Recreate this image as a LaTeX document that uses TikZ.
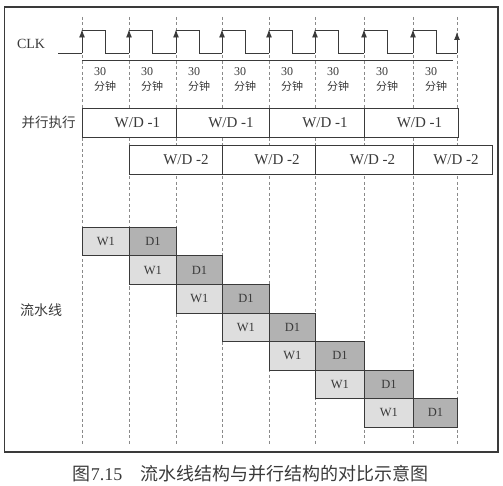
\documentclass[tikz,border=0pt]{standalone}
\usepackage{fontspec}
\setmainfont{Liberation Serif}
\newfontfamily\cjk{Noto Sans CJK SC}
\usetikzlibrary{arrows.meta}
\definecolor{ink}{HTML}{3A3A3A}
\definecolor{wfill}{HTML}{DEDEDE}
\definecolor{dfill}{HTML}{B2B2B2}
\definecolor{gridc}{HTML}{8A8A8A}
\begin{document}
\begin{tikzpicture}[x=1pt,y=-1pt,
  gridline/.style={draw=gridc, dash pattern=on 3pt off 2.5pt, line width=0.6pt},
  wave/.style={draw=ink, line width=0.9pt},
  edgearrow/.style={draw=ink, line width=0.9pt, -{Latex[length=8pt,width=6pt]}},
  wdbox/.style={draw=ink, fill=white, line width=0.9pt, minimum height=29pt, anchor=north west, inner sep=0pt, text=ink, font=\fontsize{15}{15}\selectfont},
  pbox/.style={draw=ink, line width=0.9pt, minimum height=28.5pt, anchor=north west, inner sep=0pt, text=ink, font=\fontsize{12.5}{12.5}\selectfont},
  wbox/.style={pbox, fill=wfill},
  dbox/.style={pbox, fill=dfill},
  lbl/.style={text=ink, inner sep=0pt},
]
\useasboundingbox (0,0) rectangle (503,486);
% frame
\draw[ink, line width=1.4pt] (4.5,7) rectangle (498,452);
% dashed time grid
\foreach \x [count=\k] in {82,129,176,222,269,315,364,413,457}
  \draw[gridline] (\x,17) -- (\x,445);
% CLK label
\node[lbl, font=\fontsize{14}{14}\selectfont] (clk) at (31,44) {CLK};
% clock waveform
\draw[wave] (58,53) -- (82,53);
\foreach \a/\b in {82/129,129/176,176/222,222/269,269/315,315/364,364/413,413/457}{
  \draw[wave] (\a,30) -- (\a+23,30) -- (\a+23,53) -- (\b,53);
  \draw[edgearrow] (\a,53) -- (\a,29.5);
}
\draw[edgearrow] (457,53) -- (457,32);
% time base line
\draw[wave] (82,60) -- (453,60);
% 30 / min labels
\foreach \x [count=\k] in {82,129,176,222,269,315,364,413}{
  \node[lbl, anchor=west, font=\fontsize{12}{12}\selectfont] (t\k) at (\x+12,72) {30};
  \node[lbl, anchor=west, font=\fontsize{11}{11}\selectfont\cjk] (m\k) at (\x+12,86) {分钟};
}
% parallel execution
\node[lbl, font=\fontsize{13.5}{13.5}\selectfont\cjk] (par) at (48.5,122) {并行执行};
\foreach \a/\b [count=\k] in {82/176,176/269,269/364,364/458}
  \node[wdbox, minimum width={(\b-\a)*1pt}] (pa\k) at (\a,108) {\hspace*{16pt}W/D -1};
\foreach \a/\b/\s [count=\k] in {129/222/20,222/315/16,315/413/16,413/492/6}
  \node[wdbox, minimum width={(\b-\a)*1pt}] (pb\k) at (\a,145) {\hspace*{\s pt}W/D -2};
% pipeline
\node[lbl, font=\fontsize{14}{14}\selectfont\cjk] (pipe) at (41,310) {流水线};
\foreach \a/\b/\c [count=\r from 0] in {82/129/176,129/176/222,176/222/269,222/269/315,269/315/364,315/364/413,364/413/457}{
  \node[wbox, minimum width={(\b-\a)*1pt}] (w\r) at (\a,227+28.5*\r) {W1};
  \node[dbox, minimum width={(\c-\b)*1pt}] (d\r) at (\b,227+28.5*\r) {D1};
}
% caption
\node[lbl, font=\fontsize{18}{18}\selectfont] (cap) at (250.5,474)
  {{\cjk 图}7.15\hspace{1em}{\cjk 流水线结构与并行结构的对比示意图}};
\end{tikzpicture}
\end{document}
